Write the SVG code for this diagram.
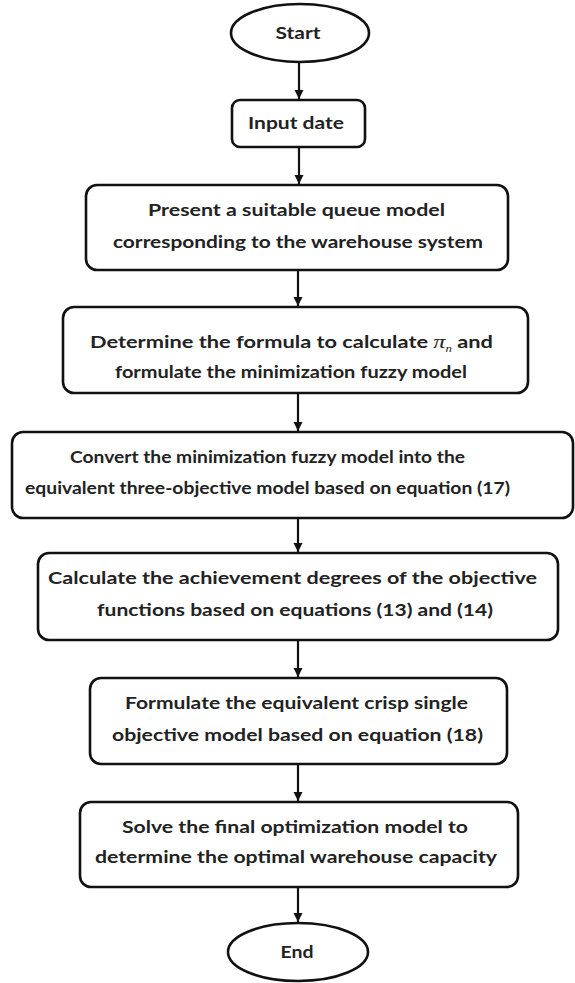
<svg xmlns="http://www.w3.org/2000/svg" width="575" height="983" viewBox="0 0 575 983">
<defs>
<style>
.n{fill:#fff;stroke:#111;stroke-width:2.6}
.t{font-family:Lato,"Open Sans","Liberation Sans",sans-serif;font-weight:bold;font-size:17px;fill:#222;text-anchor:middle}
.c{stroke:#111;stroke-width:2.2;fill:none}
</style>
<marker id="ah" viewBox="0 0 10 10" refX="10" refY="5" markerWidth="9" markerHeight="10" markerUnits="userSpaceOnUse" orient="auto">
<path d="M0,0 L10,5 L0,10 z" fill="#111"/>
</marker>
</defs>
<rect width="575" height="983" fill="#fff"/>
<g id="connectors">
<line class="c" x1="299" y1="63" x2="299" y2="99" marker-end="url(#ah)"/>
<line class="c" x1="299" y1="148" x2="299" y2="184" marker-end="url(#ah)"/>
<line class="c" x1="298" y1="271" x2="298" y2="306" marker-end="url(#ah)"/>
<line class="c" x1="298" y1="394" x2="298" y2="431" marker-end="url(#ah)"/>
<line class="c" x1="298" y1="519" x2="298" y2="552" marker-end="url(#ah)"/>
<line class="c" x1="298" y1="641" x2="298" y2="677" marker-end="url(#ah)"/>
<line class="c" x1="298" y1="765" x2="298" y2="801" marker-end="url(#ah)"/>
<line class="c" x1="298" y1="888" x2="298" y2="922" marker-end="url(#ah)"/>
</g>
<g id="start">
<ellipse class="n" cx="300" cy="33" rx="69" ry="29"/>
<text class="t" x="298" y="39" textLength="45" lengthAdjust="spacingAndGlyphs">Start</text>
</g>
<g id="input">
<rect class="n" x="232" y="100" width="133" height="47" rx="8"/>
<text class="t" x="296" y="129" textLength="96" lengthAdjust="spacingAndGlyphs">Input date</text>
</g>
<g id="present">
<rect class="n" x="86" y="185" width="422" height="85" rx="11"/>
<text class="t" x="296.5" y="216" textLength="297" lengthAdjust="spacingAndGlyphs">Present a suitable queue model</text>
<text class="t" x="298" y="248" textLength="370" lengthAdjust="spacingAndGlyphs">corresponding to the warehouse system</text>
</g>
<g id="determine">
<rect class="n" x="63" y="307" width="465" height="86" rx="11"/>
<text class="t" x="291.5" y="348" textLength="403" lengthAdjust="spacingAndGlyphs">Determine the formula to calculate <tspan font-family="'Liberation Serif',serif" font-style="italic" font-weight="normal" font-size="19">π</tspan><tspan font-family="'Liberation Serif',serif" font-style="italic" font-weight="normal" font-size="10" dy="4">n</tspan><tspan dy="-4"> and</tspan></text>
<text class="t" x="291" y="378" textLength="352" lengthAdjust="spacingAndGlyphs">formulate the minimization fuzzy model</text>
</g>
<g id="convert">
<rect class="n" x="12" y="432" width="561" height="86" rx="11"/>
<text class="t" x="267.5" y="463" textLength="395" lengthAdjust="spacingAndGlyphs">Convert the minimization fuzzy model into the</text>
<text class="t" x="267.5" y="494" textLength="485" lengthAdjust="spacingAndGlyphs">equivalent three-objective model based on equation (17)</text>
</g>
<g id="calculate">
<rect class="n" x="38" y="553" width="520" height="87" rx="11"/>
<text class="t" x="292.5" y="584" textLength="489" lengthAdjust="spacingAndGlyphs">Calculate the achievement degrees of the objective</text>
<text class="t" x="295" y="616" textLength="396" lengthAdjust="spacingAndGlyphs">functions based on equations (13) and (14)</text>
</g>
<g id="formulate">
<rect class="n" x="90" y="678" width="417" height="86" rx="11"/>
<text class="t" x="296.5" y="709" textLength="343" lengthAdjust="spacingAndGlyphs">Formulate the equivalent crisp single</text>
<text class="t" x="297.5" y="741" textLength="371" lengthAdjust="spacingAndGlyphs">objective model based on equation (18)</text>
</g>
<g id="solve">
<rect class="n" x="80" y="802" width="438" height="85" rx="11"/>
<text class="t" x="295" y="833" textLength="346" lengthAdjust="spacingAndGlyphs">Solve the final optimization model to</text>
<text class="t" x="296" y="863" textLength="402" lengthAdjust="spacingAndGlyphs">determine the optimal warehouse capacity</text>
</g>
<g id="end">
<ellipse class="n" cx="298" cy="952" rx="70" ry="29"/>
<text class="t" x="297" y="958" textLength="33" lengthAdjust="spacingAndGlyphs">End</text>
</g>
</svg>
